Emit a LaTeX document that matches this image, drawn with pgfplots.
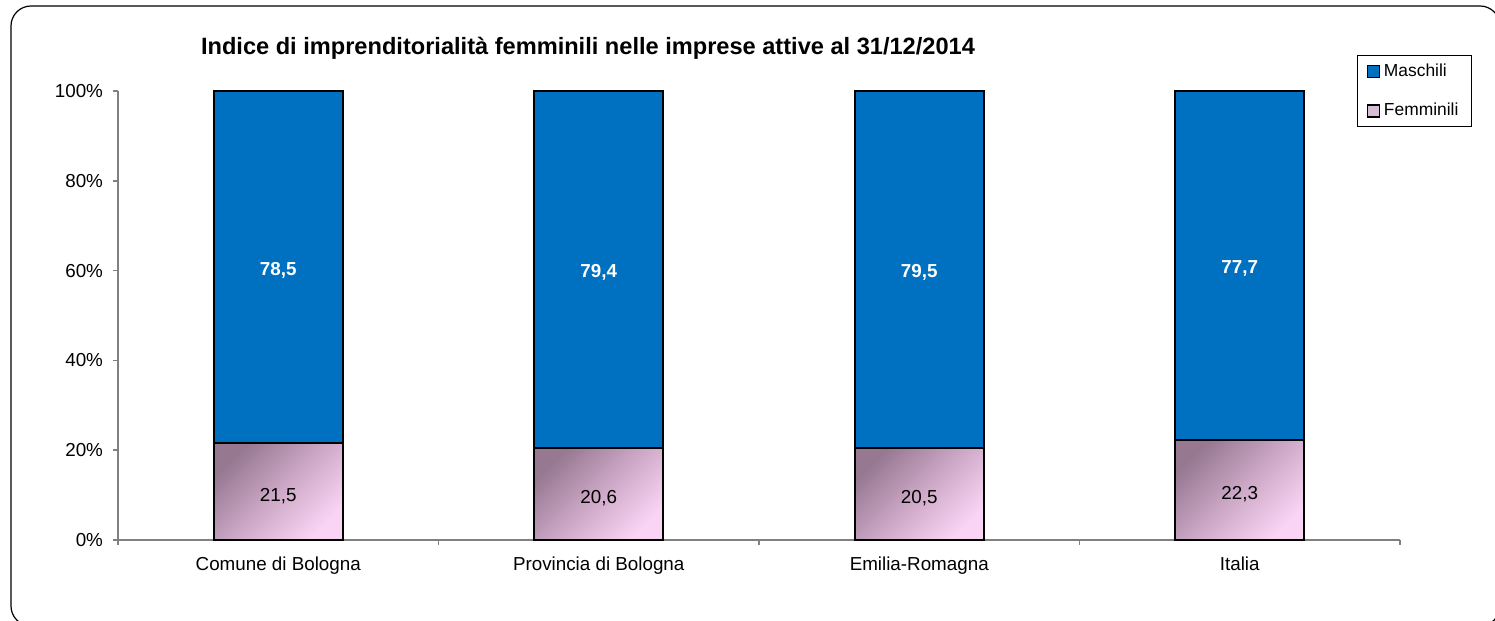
\documentclass[border=0pt]{standalone}
\usepackage{fontspec}
\setmainfont{Liberation Sans}
\usepackage{pgfplots}
\pgfplotsset{compat=1.18}
\definecolor{mblue}{RGB}{0,112,192}
\definecolor{pinkdark}{RGB}{150,120,145}
\definecolor{pinkmid}{RGB}{204,168,198}
\definecolor{pinklight}{RGB}{250,212,244}
\definecolor{pinkleg}{RGB}{214,188,212}
\definecolor{axgray}{RGB}{128,128,128}
\begin{document}
\begin{tikzpicture}[x=1pt,y=1pt]
\path[use as bounding box] (-59,-40.5) rectangle (688.5,270);
\draw[line width=0.6pt, rounded corners=10pt] (-53.5,267) rectangle (691,-43);
\begin{axis}[
  at={(0,0)}, anchor=south west,
  scale only axis, width=641pt, height=224.5pt,
  ybar stacked, bar width=64.5pt,
  xmin=-0.5, xmax=3.5, ymin=0, ymax=100,
  axis x line=bottom, axis y line=left,
  axis line style={-, draw=axgray, line width=0.75pt},
  tick align=outside, major tick length=2.5pt,
  xtick={0,1,2,3},
  xticklabels={Comune di Bologna, Provincia di Bologna, Emilia-Romagna, Italia},
  x tick style={draw=none},
  xticklabel style={yshift=-2.5pt},
  yticklabel style={xshift=-1.5pt},
  extra x ticks={-0.5,0.5,1.5,2.5,3.5}, extra x tick labels={},
  extra x tick style={x tick style={draw=axgray, line width=0.75pt}},
  ytick={0,20,40,60,80,100},
  y tick style={draw=axgray, line width=0.75pt},
  yticklabel={\pgfmathprintnumber{\tick}\%},
  /pgf/number format/assume math mode=true,
  tick label style={font=\fontsize{9.4pt}{11pt}\selectfont},
  legend style={at={(0.9665,1.0802)}, anchor=north west, draw=black, line width=0.5pt,
    font=\fontsize{8.7pt}{10pt}\selectfont, legend cell align=left, row sep=8pt,
    inner xsep=4.5pt, inner ysep=2pt},
  reverse legend,
  legend image code/.code={\draw[#1, draw=black, line width=0.7pt] (0pt,-3pt) rectangle (6pt,3pt);},
  point meta=rawy,
  visualization depends on={rawy \as \rawy},
  nodes near coords={\pgfmathprintnumber[fixed,precision=1,fixed zerofill,use comma]{\pgfplotspointmeta}},
]
\addplot[draw=black, line width=1pt, fill=pinkleg,
  legend image code/.code={\draw[fill=pinkleg, draw=black, line width=0.7pt] (0pt,-3pt) rectangle (6pt,3pt);},
  every node near coord/.append style={anchor=center, inner sep=0pt, outer sep=0pt,
    minimum width=64.5pt, minimum height={\rawy*2.245pt}, text height=10pt, text depth=0pt,
    draw=black, line width=1pt, top color=pinkdark, bottom color=pinklight, middle color=pinkmid, shading angle=45,
    text=black, font=\fontsize{9.4pt}{11pt}\selectfont}]
  coordinates {(0,21.5) (1,20.6) (2,20.5) (3,22.3)};
\addlegendentry{Femminili}
\addplot[draw=black, line width=1pt, fill=mblue,
  every node near coord/.append style={anchor=center, yshift=-1.5pt, text=white, font=\bfseries\fontsize{9.4pt}{11pt}\selectfont}]
  coordinates {(0,78.5) (1,79.4) (2,79.5) (3,77.7)};
\addlegendentry{Maschili}
\end{axis}
\node[anchor=base, font=\bfseries\fontsize{11.8pt}{14pt}\selectfont] at (235,242.5)
  {Indice di imprenditorialità femminili nelle imprese attive al 31/12/2014};
\end{tikzpicture}
\end{document}
